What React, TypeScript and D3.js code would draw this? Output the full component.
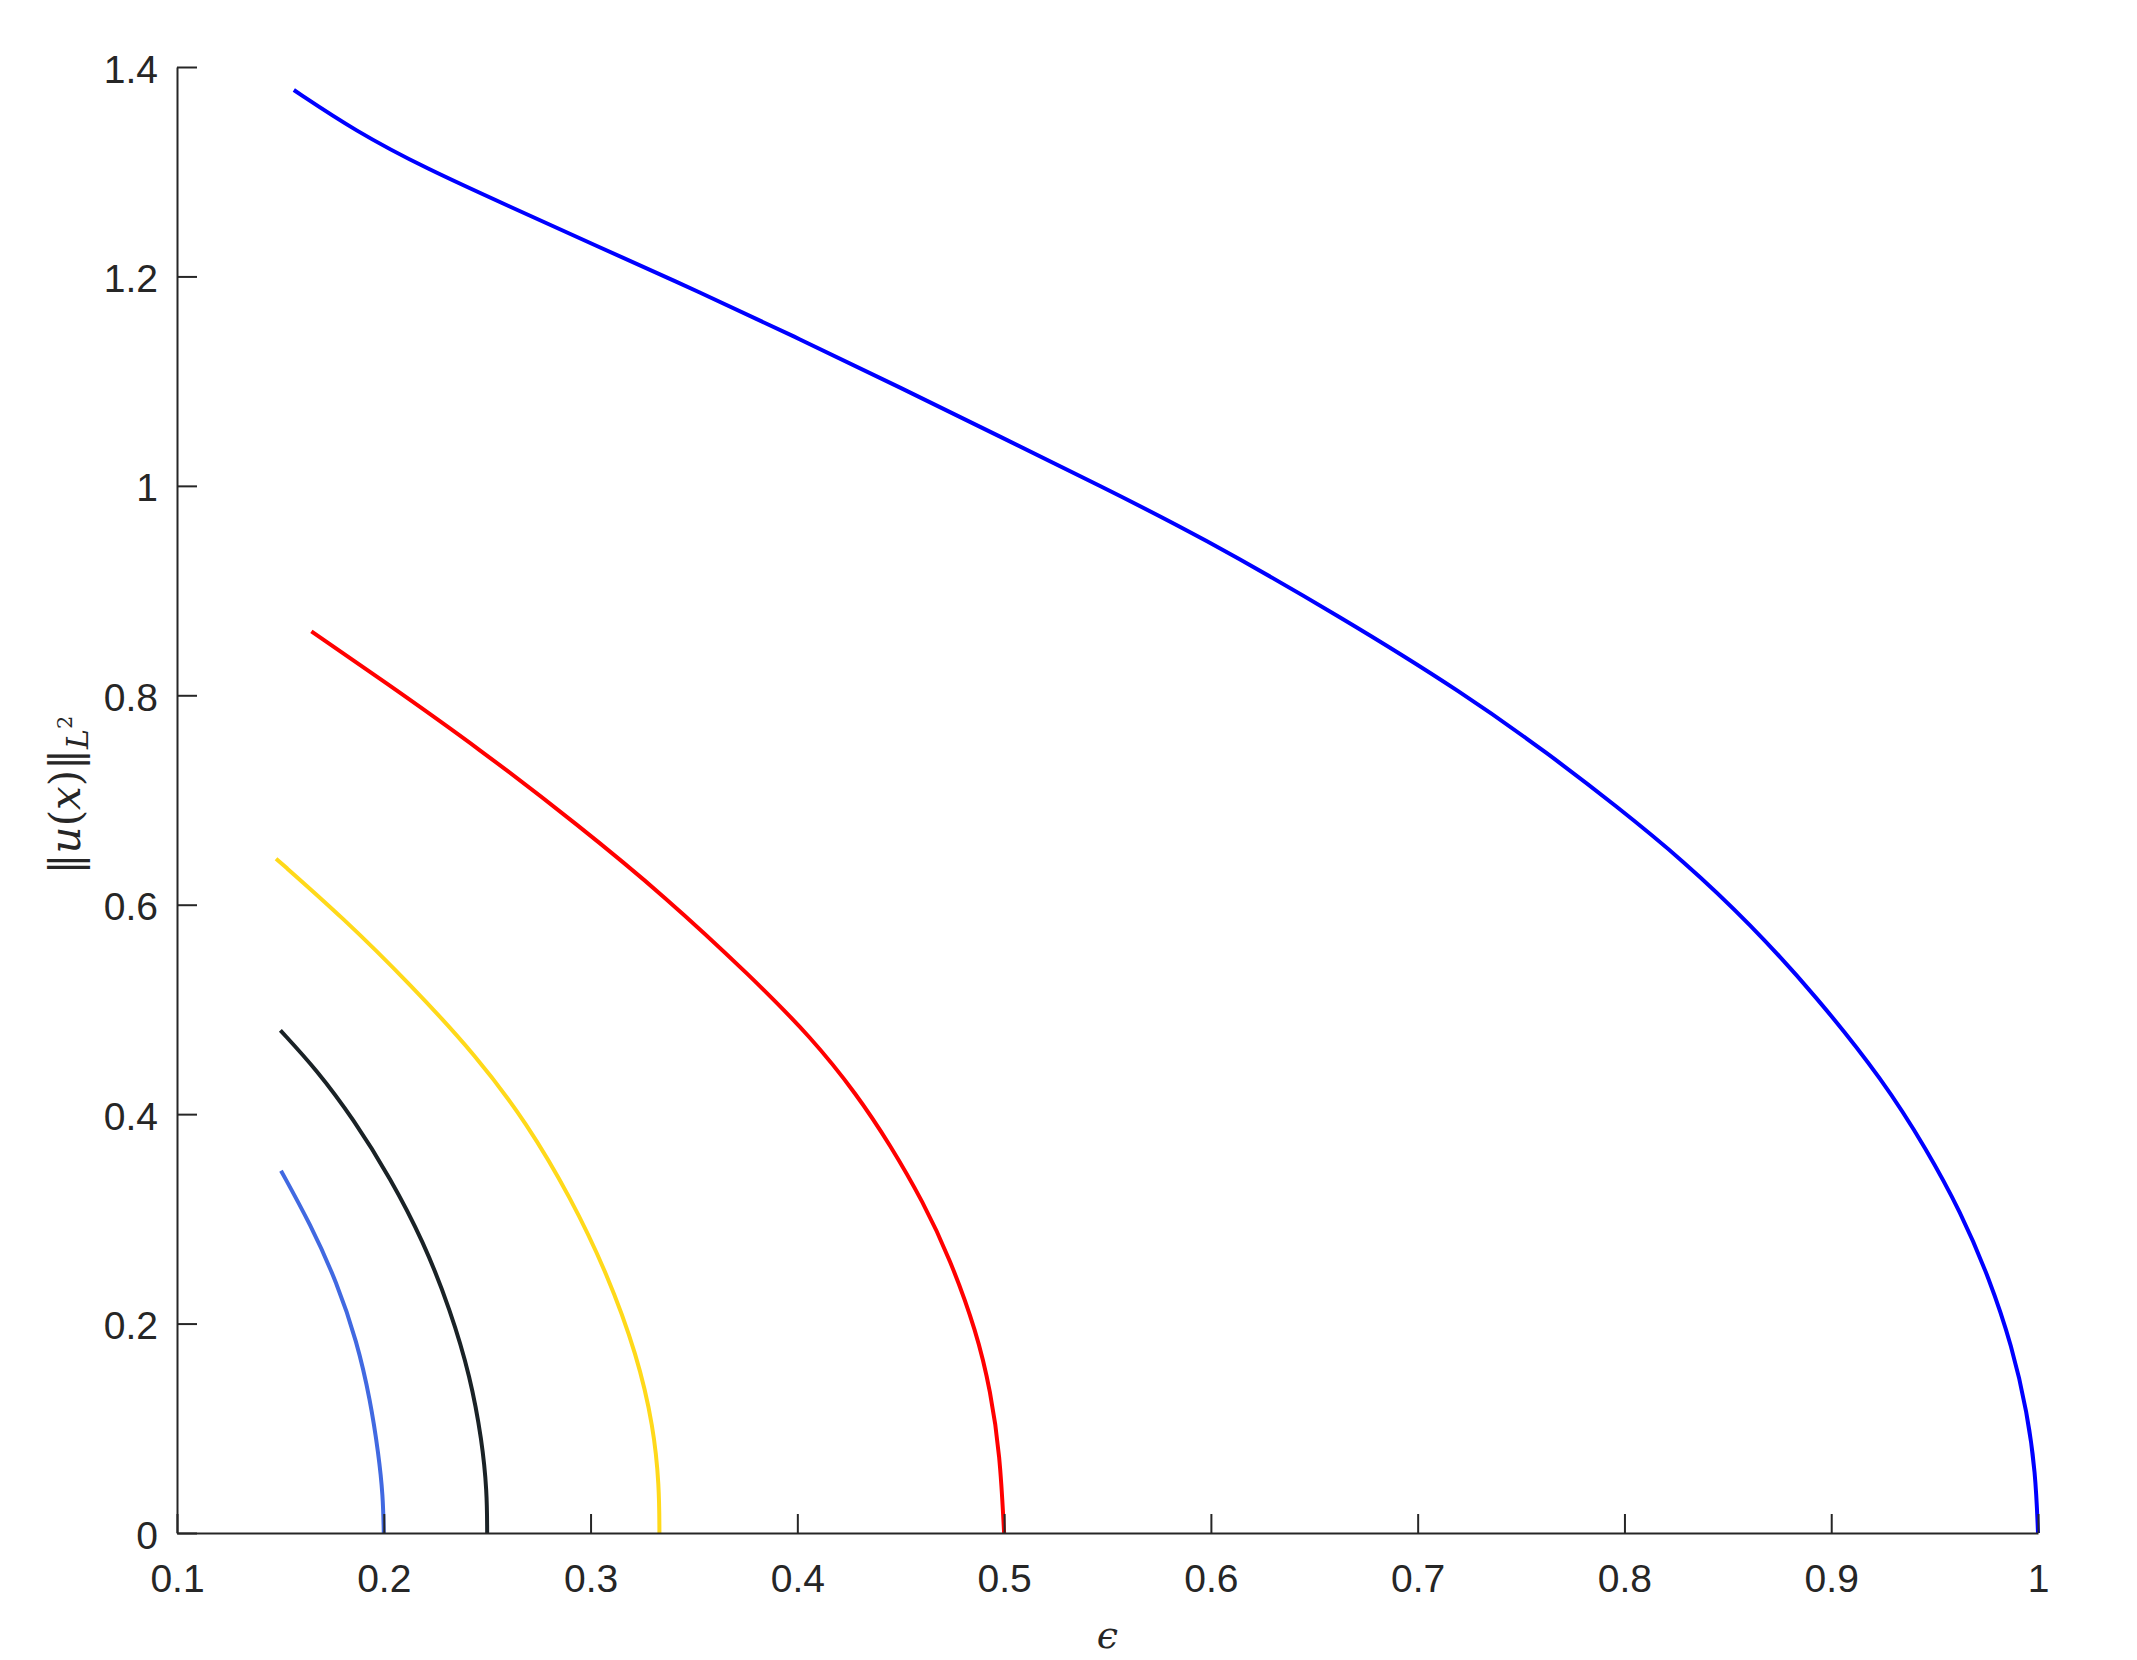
import React, { useRef, useEffect } from "react";
import * as d3 from "d3";

// tick values
const epsTicks = [0.1, 0.2, 0.3, 0.4, 0.5, 0.6, 0.7, 0.8, 0.9, 1];
const normTicks = [0, 0.2, 0.4, 0.6, 0.8, 1, 1.2, 1.4];

// branches: [epsilon, ||u||_L2]
const branch1: [number, number][] = [
  [0.1565, 1.378], [0.1861, 1.339], [0.2205, 1.303], [0.2606, 1.267],
  [0.3008, 1.231], [0.3529, 1.185], [0.4013, 1.14], [0.4497, 1.094],
  [0.498, 1.047], [0.5464, 1.0], [0.5947, 0.952], [0.6636, 0.874],
  [0.7222, 0.802], [0.764, 0.743], [0.7962, 0.694], [0.8285, 0.642],
  [0.8607, 0.582], [0.893, 0.512], [0.9252, 0.432], [0.9462, 0.366],
  [0.9625, 0.307], [0.9765, 0.243], [0.9875, 0.178], [0.9948, 0.115],
  [0.9988, 0.058], [1.0, 0],
];
const branch2: [number, number][] = [
  [0.165, 0.861], [0.1996, 0.814], [0.2468, 0.748], [0.294, 0.676],
  [0.3359, 0.608], [0.3778, 0.531], [0.4069, 0.473], [0.4287, 0.419],
  [0.4448, 0.371], [0.4609, 0.316], [0.4738, 0.262], [0.4867, 0.192],
  [0.4935, 0.135], [0.498, 0.075], [0.5, 0],
];
const branch3: [number, number][] = [
  [0.1479, 0.644], [0.1806, 0.587], [0.2128, 0.524], [0.2451, 0.455],
  [0.2693, 0.391], [0.2902, 0.321], [0.308, 0.248], [0.3225, 0.17],
  [0.3305, 0.101], [0.3332, 0.045], [0.3333, 0],
];
const branch4: [number, number][] = [
  [0.15, 0.48], [0.1677, 0.442], [0.1854, 0.395], [0.2032, 0.339],
  [0.2193, 0.278], [0.2322, 0.213], [0.2419, 0.149], [0.2475, 0.088],
  [0.2499, 0.04], [0.25, 0],
];
const branch5: [number, number][] = [
  [0.1503, 0.346], [0.1645, 0.295], [0.1774, 0.239], [0.187, 0.183],
  [0.1935, 0.127], [0.1975, 0.075], [0.1996, 0.036], [0.2, 0],
];

const branches = [branch5, branch4, branch3, branch2, branch1];
const branchColors = ["#4169e1", "#1a2226", "#ffd91a", "#ff0000", "#0000ff"];

const W = 2137;
const H = 1660;

const App = () => {
  const chartRef = useRef<SVGSVGElement>(null);

  useEffect(() => {
    const margin = { top: 67, right: 99, bottom: 127, left: 177 };
    const svg = d3.select(chartRef.current);
    svg.selectAll("*").remove();

    const xScale = d3
      .scaleLinear()
      .domain([0.1, 1])
      .range([margin.left, W - margin.right]);
    const yScale = d3
      .scaleLinear()
      .domain([0, 1.4])
      .range([H - margin.bottom, margin.top]);

    const axisColor = "#262626";
    const font = "'Liberation Sans', Arial, Helvetica, sans-serif";

    // curves (b-spline through the read points, smooths reading noise)
    const line = d3
      .line<[number, number]>()
      .x((d) => xScale(d[0]))
      .y((d) => yScale(d[1]))
      .curve(d3.curveBasis);

    svg
      .append("g")
      .selectAll("path")
      .data(branches)
      .enter()
      .append("path")
      .attr("d", (d) => line(d))
      .attr("fill", "none")
      .attr("stroke", (d, i) => branchColors[i])
      .attr("stroke-width", 4)
      .attr("stroke-linejoin", "round");

    // x axis, ticks pointing inward
    const xAxis = d3
      .axisBottom(xScale)
      .tickValues(epsTicks)
      .tickSizeInner(-19)
      .tickSizeOuter(0)
      .tickFormat((d) => d3.format("~g")(d as number));

    const gx = svg
      .append("g")
      .attr("transform", `translate(0, ${H - margin.bottom})`)
      .call(xAxis);
    gx.select(".domain").attr("stroke", axisColor).attr("stroke-width", 2);
    gx.selectAll(".tick line").attr("stroke", axisColor).attr("stroke-width", 2);
    gx.selectAll(".tick text")
      .attr("y", 59)
      .attr("dy", null)
      .attr("fill", axisColor)
      .attr("font-family", font)
      .attr("font-size", 39);

    // y axis
    const yAxis = d3
      .axisLeft(yScale)
      .tickValues(normTicks)
      .tickSizeInner(-20)
      .tickSizeOuter(0)
      .tickPadding(19)
      .tickFormat((d) => d3.format("~g")(d as number));

    const gy = svg
      .append("g")
      .attr("transform", `translate(${margin.left}, 0)`)
      .call(yAxis);
    gy.select(".domain").attr("stroke", axisColor).attr("stroke-width", 2);
    gy.selectAll(".tick line").attr("stroke", axisColor).attr("stroke-width", 2);
    gy.selectAll(".tick text")
      .attr("dy", 15)
      .attr("fill", axisColor)
      .attr("font-family", font)
      .attr("font-size", 39);

    // x label
    svg
      .append("text")
      .attr("x", (margin.left + W - margin.right) / 2)
      .attr("y", 1648)
      .attr("text-anchor", "middle")
      .attr("font-family", "'DejaVu Serif', serif")
      .attr("font-style", "italic")
      .attr("font-size", 38)
      .attr("fill", axisColor)
      .text("\u03f5");

    // y label
    const yl = svg
      .append("text")
      .attr("transform", `translate(80, 795) rotate(-90)`)
      .attr("text-anchor", "middle")
      .attr("font-family", "'DejaVu Serif', serif")
      .attr("font-size", 42)
      .attr("fill", axisColor);
    yl.append("tspan").text("\u2016");
    yl.append("tspan").attr("font-style", "italic").text("u");
    yl.append("tspan").text("(");
    yl.append("tspan").attr("font-style", "italic").text("x");
    yl.append("tspan").text(")\u2016");
    yl.append("tspan").attr("font-style", "italic").attr("font-size", 30).attr("dy", 8).text("L");
    yl.append("tspan").attr("font-size", 21).attr("dy", -16).text("2");

    return () => {
      svg.selectAll("*").remove();
    };
  }, []);

  return (
    <svg
      ref={chartRef}
      width={W}
      height={H}
      style={{ position: "absolute", left: 0, top: 0, background: "#fff" }}
    />
  );
};

export default App;
